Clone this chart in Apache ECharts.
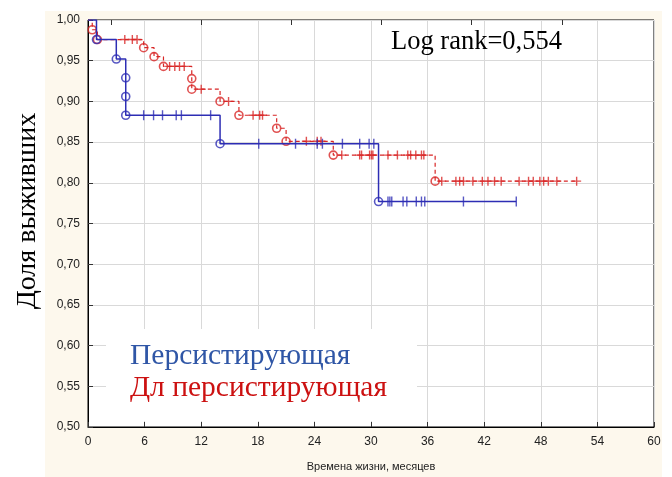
<!DOCTYPE html>
<html>
<head>
<meta charset="utf-8">
<script src="https://cdn.jsdelivr.net/npm/echarts@6/dist/echarts.min.js"></script>
<style>html,body{margin:0;padding:0;background:#fff}#c{width:672px;height:477px}</style>
</head>
<body>
<div id="c"></div>
<script>
// ---- data ----
const blueName = 'Персистирующая';
const redName = 'Дл персистирующая';
// Kaplan-Meier steps: time (months) and survival after each step; last entry = end of follow-up
const blueTimes = [0, 0.9, 3.0, 4.0, 4.0, 4.0, 14.0, 30.8, 45.4];
const blueSurv  = [1.000, 0.976, 0.952, 0.929, 0.906, 0.883, 0.848, 0.777, 0.777];
const blueCensored = [5.9, 6.95, 7.9, 9.35, 9.9, 13.0, 18.1, 22.0, 24.3, 24.85, 26.97, 28.8, 29.8, 30.3,
  31.8, 32.0, 32.2, 33.4, 33.8, 34.8, 35.35, 35.7, 39.8, 45.4];
const redTimes = [0, 0.45, 1.0, 5.9, 7.0, 8.0, 11.0, 11.0, 14.0, 16.0, 20.0, 21.0, 26.0, 36.8, 51.8];
const redSurv  = [1.000, 0.988, 0.976, 0.966, 0.955, 0.943, 0.928, 0.915, 0.900, 0.883, 0.867, 0.851, 0.834, 0.802, 0.802];
const redCensored = [3.9, 4.7, 5.2, 8.65, 9.2, 9.7, 10.2, 12.0, 14.9, 17.5, 18.2, 18.5,
  23.15, 24.3, 24.7, 26.9, 28.8, 29.0, 29.85, 30.05, 30.2, 31.8, 32.8, 33.9, 34.2, 34.75, 35.35, 35.6,
  37.5, 39.0, 39.4, 39.8, 40.8, 41.8, 42.4, 43.1, 43.8, 45.7, 46.7, 47.2, 47.9, 48.3, 48.8, 49.7, 51.8];
const xTicks = [0, 6, 12, 18, 24, 30, 36, 42, 48, 54, 60];
const yTicks = [0.50, 0.55, 0.60, 0.65, 0.70, 0.75, 0.80, 0.85, 0.90, 0.95, 1.00];
const xTitle = 'Времена жизни, месяцев';
const yTitle = 'Доля выживших';
const statText = 'Log rank=0,554';

// ---- helpers ----
function stepValue(times, surv, t) {
  let v = surv[0];
  for (let i = 0; i < times.length; i++) { if (times[i] <= t) v = surv[i]; }
  return v;
}
const pairs = (ts, ss) => ts.map((t, i) => [t, ss[i]]);
const events = (ts, ss) => pairs(ts, ss).slice(1, ts.length - 1);
const cens = (c, ts, ss) => c.map(t => [t, stepValue(ts, ss, t)]);

const BLUE = '#2d2db4';
const RED = '#d82626';
const PLUS = 'path://M-0.7,-4.5L0.7,-4.5L0.7,-0.7L4.5,-0.7L4.5,0.7L0.7,0.7L0.7,4.5L-0.7,4.5L-0.7,0.7L-4.5,0.7L-4.5,-0.7L-0.7,-0.7Z';
const SANS = '"Liberation Sans", Arial, sans-serif';
const SERIF = '"Liberation Serif", "Times New Roman", serif';

const chart = echarts.init(document.getElementById('c'), null, {renderer: 'canvas'});
chart.setOption({
  animation: false,
  backgroundColor: '#fdf8ed',
  grid: {left: 88, right: 18, top: 20, bottom: 50, show: true, backgroundColor: '#fff', borderColor: '#000', borderWidth: 1},
  xAxis: [{
    type: 'value', min: xTicks[0], max: xTicks[xTicks.length - 1], interval: 6,
    axisLine: {show: true, lineStyle: {color: '#000', width: 1}},
    axisTick: {show: true, inside: true, length: 5, lineStyle: {color: '#333'}},
    splitLine: {show: true, lineStyle: {color: '#d9d9d9', width: 1}},
    axisLabel: {color: '#222', fontFamily: SANS, fontSize: 12, margin: 9},
    name: xTitle, nameLocation: 'middle', nameGap: 34,
    nameTextStyle: {color: '#222', fontFamily: SANS, fontSize: 11}
  }, {
    type: 'value', position: 'top', min: 0, max: 60,
    axisLine: {show: false},
    axisTick: {show: true, inside: true, length: 5, lineStyle: {color: '#333'}, customValues: [2.46, 12.0, 21.55, 31.1, 40.65, 50.3]},
    axisLabel: {show: false}, splitLine: {show: false}
  }],
  yAxis: {
    type: 'value', min: yTicks[0], max: yTicks[yTicks.length - 1], interval: 0.05,
    axisLine: {show: true, lineStyle: {color: '#000', width: 1}},
    axisTick: {show: true, inside: true, length: 5, lineStyle: {color: '#333'}},
    splitLine: {show: true, lineStyle: {color: '#d9d9d9', width: 1}},
    axisLabel: {color: '#222', fontFamily: SANS, fontSize: 12, margin: 8,
      formatter: v => v.toFixed(2).replace('.', ',')}
  },
  graphic: [
    {type: 'rect', z: -1, shape: {x: 0, y: 0, width: 45, height: 477}, style: {fill: '#fff'}},
    {type: 'rect', z: -1, shape: {x: 0, y: 0, width: 672, height: 11}, style: {fill: '#fff'}},
    {type: 'rect', z: -1, shape: {x: 662, y: 0, width: 10, height: 477}, style: {fill: '#fff'}},
    {type: 'rect', z: 1, shape: {x: 106, y: 329, width: 311, height: 92}, style: {fill: '#fff'}},
    {type: 'text', z: 3, x: 130, y: 356, style: {text: blueName, fill: '#2f56a6', font: '29.5px ' + SERIF, textAlign: 'left', textVerticalAlign: 'middle'}},
    {type: 'text', z: 3, x: 130, y: 388, style: {text: redName, fill: '#cc1111', font: '29.5px ' + SERIF, textAlign: 'left', textVerticalAlign: 'middle'}},
    {type: 'text', z: 3, x: 391, y: 42, style: {text: statText, fill: '#000', font: '26.5px ' + SERIF, textAlign: 'left', textVerticalAlign: 'middle'}},
    {type: 'text', z: 3, x: 28, y: 211, rotation: Math.PI / 2, style: {text: yTitle, fill: '#000', font: '28px ' + SERIF, textAlign: 'center', textVerticalAlign: 'middle'}}
  ],
  series: [
    {name: redName, type: 'line', step: 'end', data: pairs(redTimes, redSurv), symbol: 'none',
      lineStyle: {color: RED, width: 1.2, type: [4, 3]}, z: 3},
    {type: 'scatter', data: events(redTimes, redSurv), symbol: 'circle', symbolSize: 8,
      itemStyle: {color: 'rgba(255,255,255,0)', borderColor: RED, borderWidth: 1.6}, z: 4},
    {type: 'scatter', data: cens(redCensored, redTimes, redSurv), symbol: PLUS, symbolSize: 9,
      itemStyle: {color: RED}, z: 4},
    {name: blueName, type: 'line', step: 'end', data: pairs(blueTimes, blueSurv), symbol: 'none',
      lineStyle: {color: BLUE, width: 1.5}, z: 5},
    {type: 'scatter', data: events(blueTimes, blueSurv), symbol: 'circle', symbolSize: 8,
      itemStyle: {color: 'rgba(255,255,255,0)', borderColor: BLUE, borderWidth: 1.6}, z: 6},
    {type: 'scatter', data: cens(blueCensored, blueTimes, blueSurv), symbol: 'rect', symbolSize: [1.4, 10],
      itemStyle: {color: BLUE}, z: 6}
  ]
});
</script>
</body>
</html>
